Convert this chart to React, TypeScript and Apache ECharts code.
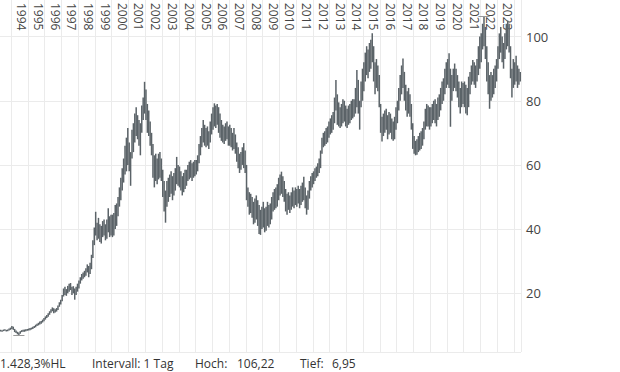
import React, { useEffect, useRef } from "react";
import * as echarts from "echarts";

// Monthly high/low values, May 1993 .. May 2024
const startYear = 1993;
const startMonth = 5;

const lows = [
  /*1993*/ 8.1, 8.0, 8.2, 8.3, 8.1, 8.2, 8.4, 8.6,
  /*1994*/ 8.9, 8.6, 7.9, 7.6, 7.2, 6.95, 7.4, 7.9, 8.0, 8.0, 8.2, 8.3,
  /*1995*/ 8.4, 8.5, 8.7, 8.9, 9.2, 9.4, 9.8, 10.0, 10.3, 10.5, 10.9, 11.3,
  /*1996*/ 11.8, 12.3, 12.7, 13.3, 13.9, 14.4, 13.8, 14.0, 14.3, 14.8, 15.8, 16.5,
  /*1997*/ 17.5, 19.0, 19.5, 19.2, 20.0, 20.5, 21.0, 19.5, 20.0, 18.0, 19.5, 20.5,
  /*1998*/ 21.5, 23.0, 24.0, 24.5, 25.0, 25.5, 26.5, 25.0, 26.0, 27.5, 31.0, 35.0,
  /*1999*/ 38.0, 36.5, 37.0, 36.0, 35.5, 37.5, 38.0, 36.5, 37.0, 39.0, 37.5, 38.0,
  /*2000*/ 37.5, 38.0, 40.0, 41.0, 44.0, 47.0, 49.0, 52.0, 54.5, 57.0, 58.0, 60.0,
  /*2001*/ 58.0, 53.5, 62.0, 64.0, 67.0, 69.0, 68.0, 66.0, 63.0, 70.0, 74.0, 76.0,
  /*2002*/ 74.0, 70.0, 69.0, 66.0, 63.0, 56.0, 53.0, 55.0, 54.0, 55.5, 56.0, 55.0,
  /*2003*/ 50.0, 45.5, 42.0, 47.0, 48.5, 50.0, 51.0, 49.0, 50.5, 52.0, 54.0, 53.5,
  /*2004*/ 53.0, 52.0, 50.5, 51.5, 52.5, 53.5, 55.0, 55.5, 56.0, 55.0, 56.0, 56.5,
  /*2005*/ 57.0, 58.0, 60.5, 63.0, 65.5, 67.0, 66.0, 65.5, 66.0, 65.0, 67.0, 69.5,
  /*2006*/ 71.0, 72.0, 71.5, 72.5, 70.0, 68.5, 67.5, 67.0, 66.5, 67.5, 68.0, 66.0,
  /*2007*/ 66.0, 65.5, 64.5, 65.0, 63.5, 61.0, 59.0, 57.5, 58.5, 60.0, 59.0, 57.5,
  /*2008*/ 49.0, 47.0, 44.5, 45.0, 43.5, 41.5, 42.0, 43.0, 41.0, 38.5, 38.2, 40.0,
  /*2009*/ 40.5, 39.0, 39.5, 41.0, 40.5, 41.5, 43.0, 45.5, 46.0, 46.5, 47.0, 49.0,
  /*2010*/ 50.5, 51.0, 50.0, 48.5, 45.5, 44.5, 46.0, 45.0, 46.0, 47.0, 46.5, 47.5,
  /*2011*/ 47.0, 48.0, 46.5, 47.5, 48.5, 49.0, 46.5, 44.5, 46.0, 49.5, 52.0, 53.0,
  /*2012*/ 54.0, 55.0, 56.0, 56.5, 57.5, 59.0, 63.5, 65.5, 66.0, 66.5, 67.0, 68.5,
  /*2013*/ 69.5, 70.0, 71.0, 73.0, 77.0, 72.5, 72.0, 71.5, 72.0, 73.0, 73.5, 72.0,
  /*2014*/ 71.5, 72.5, 73.0, 74.0, 74.5, 75.0, 76.0, 78.0, 76.0, 71.0, 78.0, 80.0,
  /*2015*/ 83.0, 86.0, 88.0, 87.0, 89.0, 90.0, 92.0, 86.0, 82.0, 84.0, 83.0, 78.0,
  /*2016*/ 70.0, 67.3, 69.0, 70.0, 71.0, 68.0, 69.5, 70.0, 68.0, 67.5, 68.0, 71.0,
  /*2017*/ 73.0, 77.0, 80.0, 82.0, 84.0, 80.0, 77.0, 75.0, 76.0, 75.0, 71.0, 65.0,
  /*2018*/ 63.5, 63.0, 63.2, 64.0, 64.5, 65.0, 66.0, 68.0, 71.0, 72.0, 72.0, 71.0,
  /*2019*/ 72.0, 73.0, 74.0, 73.0, 72.0, 74.0, 75.0, 77.0, 79.0, 80.0, 82.0, 84.0,
  /*2020*/ 85.0, 84.0, 71.9, 80.0, 83.0, 84.0, 83.0, 81.0, 78.0, 76.0, 78.0, 79.0,
  /*2021*/ 78.0, 76.0, 75.5, 78.0, 82.0, 85.0, 86.0, 85.0, 84.0, 86.0, 88.0, 90.0,
  /*2022*/ 92.0, 96.0, 97.0, 93.0, 86.0, 82.0, 77.5, 80.0, 81.0, 82.0, 84.0, 86.0,
  /*2023*/ 90.0, 93.0, 95.0, 92.0, 90.0, 93.0, 96.0, 97.0, 95.0, 87.0, 81.0, 84.0,
  /*2024*/ 85.0, 86.0, 84.0, 85.0, 86.0,
];

const highs = [
  /*1993*/ 8.6, 8.5, 8.7, 8.8, 8.6, 8.7, 9.0, 9.3,
  /*1994*/ 9.8, 9.6, 8.9, 8.4, 8.0, 7.8, 8.2, 8.5, 8.6, 8.7, 8.8, 8.9,
  /*1995*/ 9.0, 9.2, 9.3, 9.6, 9.8, 10.2, 10.5, 10.8, 11.2, 11.4, 11.8, 12.3,
  /*1996*/ 12.8, 13.2, 13.8, 14.4, 15.0, 15.6, 15.3, 15.0, 15.4, 16.2, 17.2, 18.0,
  /*1997*/ 19.5, 21.5, 22.0, 21.3, 22.3, 23.0, 23.2, 22.0, 22.2, 21.5, 22.0, 23.0,
  /*1998*/ 24.0, 25.0, 26.0, 26.5, 27.0, 27.8, 29.0, 28.5, 29.5, 32.0, 36.5, 40.5,
  /*1999*/ 45.4, 42.0, 43.5, 41.5, 41.0, 42.5, 43.0, 41.5, 43.0, 46.5, 44.0, 44.5,
  /*2000*/ 44.5, 45.0, 47.5, 48.0, 50.0, 53.0, 56.0, 59.0, 62.0, 66.0, 68.5, 71.5,
  /*2001*/ 67.0, 64.0, 71.0, 73.0, 76.0, 78.0, 75.5, 74.0, 73.0, 78.5, 81.0, 85.9,
  /*2002*/ 83.5, 79.0, 77.0, 73.5, 70.0, 66.5, 63.0, 63.5, 62.0, 63.5, 64.0, 62.0,
  /*2003*/ 58.5, 55.0, 52.0, 55.0, 56.0, 57.0, 58.0, 56.5, 57.5, 59.0, 62.5, 60.0,
  /*2004*/ 59.5, 58.0, 56.5, 57.5, 58.5, 58.5, 60.0, 61.0, 61.5, 60.5, 61.0, 61.5,
  /*2005*/ 61.5, 63.0, 66.5, 69.0, 71.5, 74.0, 72.5, 71.5, 72.0, 70.5, 73.5, 76.0,
  /*2006*/ 78.0, 79.2, 78.5, 79.0, 78.0, 76.0, 74.0, 72.5, 72.0, 73.0, 73.5, 72.0,
  /*2007*/ 72.5, 71.5, 70.0, 71.5, 69.5, 67.0, 65.5, 63.5, 64.0, 65.5, 66.8, 64.5,
  /*2008*/ 60.0, 53.0, 51.5, 51.0, 50.0, 48.5, 49.5, 50.5, 49.0, 47.5, 46.0, 47.0,
  /*2009*/ 48.5, 46.5, 47.0, 48.5, 47.5, 48.0, 50.0, 51.5, 52.5, 53.0, 54.0, 56.0,
  /*2010*/ 57.0, 57.9, 56.5, 55.0, 52.5, 51.0, 51.5, 50.5, 51.5, 53.0, 52.0, 53.0,
  /*2011*/ 52.5, 53.5, 52.5, 53.5, 54.5, 56.3, 53.0, 50.5, 52.0, 55.0, 56.5, 57.5,
  /*2012*/ 58.0, 59.0, 59.5, 60.5, 62.0, 64.5, 68.5, 70.0, 70.5, 71.5, 72.0, 73.5,
  /*2013*/ 74.5, 75.5, 76.5, 81.0, 86.5, 82.0, 79.5, 78.0, 79.0, 80.5, 80.0, 78.5,
  /*2014*/ 77.5, 78.5, 79.0, 80.0, 80.5, 80.5, 84.0, 89.6, 86.5, 80.0, 86.0, 90.0,
  /*2015*/ 92.0, 95.0, 97.0, 96.0, 98.0, 99.0, 101.0, 97.0, 92.0, 93.0, 91.0, 88.0,
  /*2016*/ 79.0, 75.0, 76.0, 77.0, 77.5, 75.5, 76.5, 76.0, 74.5, 73.5, 75.0, 78.0,
  /*2017*/ 80.0, 84.0, 88.0, 91.0, 93.2, 89.0, 85.0, 83.0, 84.0, 82.0, 79.0, 73.0,
  /*2018*/ 69.0, 67.5, 68.0, 69.0, 70.0, 70.5, 71.5, 73.5, 77.5, 79.0, 78.5, 78.0,
  /*2019*/ 78.0, 79.0, 80.0, 80.5, 79.0, 81.0, 82.0, 84.0, 86.0, 87.0, 90.0, 92.0,
  /*2020*/ 93.0, 94.8, 90.0, 88.0, 90.0, 91.6, 90.0, 88.0, 86.0, 84.0, 86.0, 85.5,
  /*2021*/ 86.0, 85.0, 84.0, 87.5, 89.0, 91.0, 92.7, 92.0, 91.0, 93.0, 97.0, 100.0,
  /*2022*/ 101.0, 104.0, 106.22, 103.0, 97.0, 92.0, 88.0, 89.0, 88.0, 90.0, 91.0, 93.0,
  /*2023*/ 97.0, 101.0, 103.0, 100.0, 98.0, 101.0, 104.0, 105.0, 104.0, 97.0, 90.0, 93.0,
  /*2024*/ 92.0, 94.0, 91.0, 90.0, 89.0,
];

const yMin = 1.7;
const yMax = 111.4;
const intervalText = "Intervall: 1 Tag";

const months: string[] = lows.map((_, i) => {
  const m0 = startMonth - 1 + i;
  const y = startYear + Math.floor(m0 / 12);
  const m = (m0 % 12) + 1;
  return `${y}-${m < 10 ? "0" + m : m}`;
});

const fmt = (v: number, d: number) => {
  const [ip, dp] = v.toFixed(d).split(".");
  const withDots = ip.replace(/\B(?=(\d{3})+(?!\d))/g, ".");
  return dp ? `${withDots},${dp}` : withDots;
};

export default function App() {
  const ref = useRef<HTMLDivElement>(null);
  useEffect(() => {
    if (!ref.current) return;
    const chart = echarts.init(ref.current, undefined, { renderer: "svg" });
    const ranges = highs.map((h, i) => +(h - lows[i]).toFixed(3));
    const maxHigh = Math.max(...highs);
    const minLow = Math.min(...lows);
    const hiIdx = highs.indexOf(maxHigh);
    const loIdx = lows.indexOf(minLow);
    const hl = ((maxHigh - minLow) / minLow) * 100;
    const font = "Open Sans";
    const txt = (text: string, x: number) => ({
      type: "text",
      x,
      y: 363,
      silent: true,
      style: { text, fontSize: 12, fontFamily: font, fill: "#333", verticalAlign: "middle" },
    });
    chart.setOption({
      animation: false,
      textStyle: { fontFamily: font },
      grid: { left: 0, right: 99, top: 0, bottom: 20, containLabel: false },
      xAxis: {
        type: "category",
        data: months,
        position: "top",
        boundaryGap: true,
        axisLine: { show: false },
        axisTick: { show: false },
        axisLabel: {
          inside: true,
          rotate: 90,
          margin: 3,
          fontSize: 12,
          color: "#444",
          fontFamily: font,
          interval: (_i: number, v: string) => v.endsWith("-08") && v >= "1994",
          formatter: (v: string) => v.slice(0, 4),
        },
        splitLine: {
          show: true,
          interval: (_i: number, v: string) => v.endsWith("-01"),
          lineStyle: { color: "#ebebeb", width: 1 },
        },
      },
      yAxis: {
        type: "value",
        position: "right",
        min: yMin,
        max: yMax,
        axisLine: { show: false },
        axisTick: { show: false },
        axisLabel: {
          margin: 5,
          fontSize: 13,
          color: "#444",
          fontFamily: font,
          showMinLabel: false,
          showMaxLabel: false,
        },
        splitLine: { show: true, showMaxLine: false, lineStyle: { color: "#ebebeb", width: 1 } },
      },
      series: [
        {
          type: "bar",
          stack: "hl",
          data: lows,
          barWidth: 1.5,
          itemStyle: { color: "rgba(0,0,0,0)" },
          silent: true,
          markLine: {
            silent: true,
            symbol: ["none", "none"],
            label: { show: false },
            lineStyle: { color: "#999", width: 1, type: "solid" },
            data: [
              [{ coord: [months[hiIdx - 4], maxHigh] }, { coord: [months[hiIdx + 4], maxHigh] }],
              [{ coord: [months[loIdx - 4], minLow] }, { coord: [months[loIdx + 4], minLow] }],
            ],
          },
        },
        {
          type: "bar",
          stack: "hl",
          data: ranges,
          barWidth: 1.5,
          itemStyle: { color: "#5b6368" },
          silent: true,
        },
      ],
      graphic: [
        txt(`${fmt(hl, 1)}%HL`, 0),
        txt(intervalText, 92),
        txt("Hoch:", 195),
        txt(fmt(maxHigh, 2), 237),
        txt("Tief:", 300),
        txt(fmt(minLow, 2), 332),
      ],
    });
    return () => chart.dispose();
  }, []);
  return (
    <div
      ref={ref}
      style={{ position: "fixed", left: 0, top: 0, width: 620, height: 372, background: "#fff" }}
    />
  );
}
